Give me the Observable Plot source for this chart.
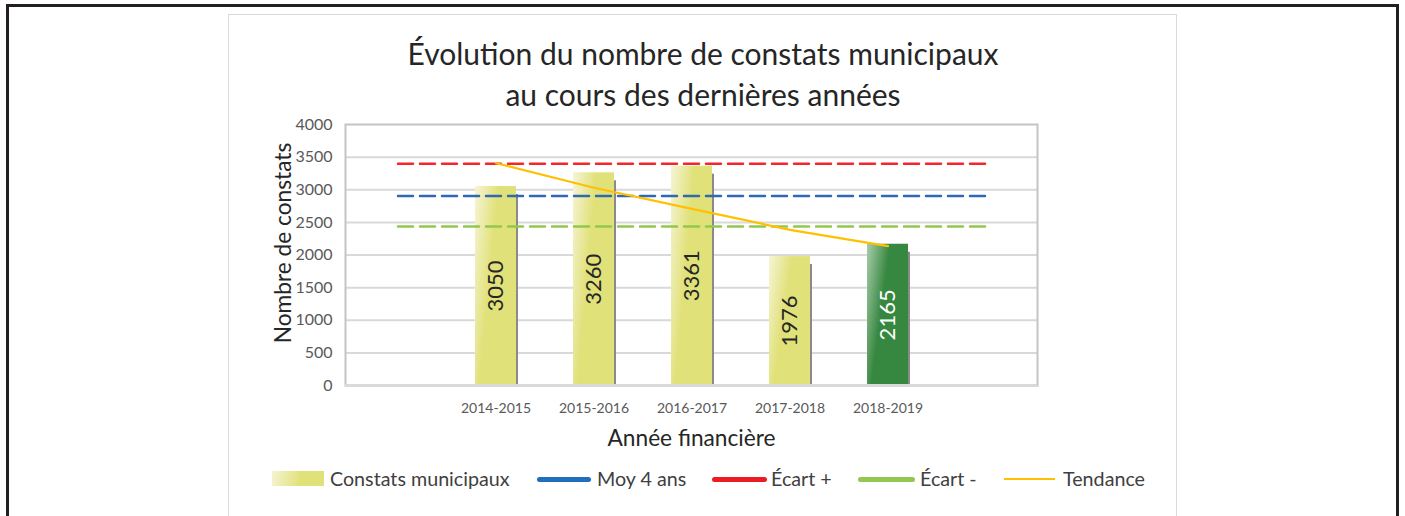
<!DOCTYPE html>
<html><head><meta charset="utf-8">
<script src="https://cdn.jsdelivr.net/npm/d3@7"></script>
<script src="https://cdn.jsdelivr.net/npm/@observablehq/plot@0.6"></script>
<style>
html,body{margin:0;padding:0;background:#fff;width:1405px;height:516px;overflow:hidden;font-family:Lato,sans-serif;}
#outer{position:absolute;left:6px;top:4px;width:1387px;height:540px;border:3px solid #231f20;}
#frame{position:absolute;left:228px;top:14px;width:947px;height:520px;border:1.5px solid #d9d9d9;}
#title{position:absolute;left:228px;width:950px;top:33px;text-align:center;font-size:30px;line-height:41px;color:#262626;}
#chart{position:absolute;left:228px;top:110px;}
.legtxt{position:absolute;top:467px;font-size:19.7px;line-height:24px;color:#404040;white-space:nowrap;}
.legsw{position:absolute;}
</style></head><body>
<div id="outer"></div>
<div id="frame"></div>
<div id="title"></div>
<div id="chart"></div>
<div id="legend"></div>
<script>
// ---- données ----
const titre = ["Évolution du nombre de constats municipaux", "au cours des dernières années"];
const annees = ["2014-2015", "2015-2016", "2016-2017", "2017-2018", "2018-2019"];
const constats = [3050, 3260, 3361, 1976, 2165];
const moy4ans = 2905;
const ecartPlus = 3398;
const ecartMoins = 2437;
const tendance = [3407, 3030, 2708, 2386, 2135];
const yTicks = [0, 500, 1000, 1500, 2000, 2500, 3000, 3500, 4000];
const titreY = "Nombre de constats";
const titreX = "Année financière";
const legende = ["Constats municipaux", "Moy 4 ans", "Écart +", "Écart -", "Tendance"];

// ---- construction ----
document.getElementById("title").innerHTML = titre.join("<br>");

const domaineX = ["_debut", ...annees, "_fin"];
const lignes = annees.map((a, i) => ({annee: a, valeur: constats[i], courante: i === annees.length - 1}));
const trend = annees.map((a, i) => ({annee: a, v: tendance[i]}));
const ref = (v) => domaineX.map(x => ({x, v}));

const chart = Plot.plot({
  width: 949, height: 345,
  marginLeft: 117, marginRight: 140, marginTop: 14, marginBottom: 70,
  style: {fontFamily: "Lato, sans-serif", fontSize: "14px", color: "#595959", background: "transparent", overflow: "visible"},
  x: {type: "band", domain: domaineX, paddingInner: 0.585, paddingOuter: 0.2925,
      tickFormat: d => annees.includes(d) ? d : "", tickSize: 0, tickPadding: 18, label: null},
  y: {domain: [0, 4000], ticks: yTicks, tickFormat: d => String(d), tickSize: 0, tickPadding: 13, label: null},
  marks: [
    Plot.ruleY(yTicks.filter(v => v > 0 && v < 4000), {stroke: "#d9d9d9", strokeWidth: 2}),
    Plot.frame({stroke: "#c4c4c4", strokeWidth: 2}),
    Plot.barY(lignes, {x: "annee", y: "valeur", fill: "#8a8a8a", dx: 2, insetTop: 8}),
    Plot.barY(lignes.filter(d => !d.courante), {x: "annee", y: "valeur", fill: "url(#gJaune)"}),
    Plot.barY(lignes.filter(d => d.courante), {x: "annee", y: "valeur", fill: "url(#gVert)"}),
    Plot.ruleY([0], {stroke: "#d9d9d9", strokeWidth: 3}),
    Plot.text(lignes.filter(d => !d.courante), {x: "annee", y: d => d.valeur / 2, text: d => String(d.valeur), rotate: -90, fontSize: 22, fill: "#262626"}),
    Plot.text(lignes.filter(d => d.courante), {x: "annee", y: d => d.valeur / 2, text: d => String(d.valeur), rotate: -90, fontSize: 22, fill: "#ffffff"}),
    Plot.line(ref(ecartPlus), {x: "x", y: "v", stroke: "#f2262b", strokeWidth: 2.5, strokeDasharray: "15,7"}),
    Plot.line(ref(moy4ans), {x: "x", y: "v", stroke: "#2f69b1", strokeWidth: 2.5, strokeDasharray: "15,7"}),
    Plot.line(ref(ecartMoins), {x: "x", y: "v", stroke: "#92c74e", strokeWidth: 2.5, strokeDasharray: "15,7"}),
    Plot.line(trend, {x: "annee", y: "v", stroke: "#ffc000", strokeWidth: 2.2}),
    Plot.text([titreY], {frameAnchor: "left", textAnchor: "middle", lineAnchor: "middle", rotate: -90, dx: -62, dy: -12, fontSize: 22.7, fill: "#262626"}),
    Plot.text([titreX], {frameAnchor: "bottom", textAnchor: "middle", lineAnchor: "middle", dy: 53, fontSize: 22.7, fill: "#262626"})
  ]
});

// gradients
const svg = d3.select(chart.tagName.toLowerCase() === "svg" ? chart : chart.querySelector("svg"));
const defs = svg.insert("defs", ":first-child");
function grad(id, c0, c1) {
  const g = defs.append("linearGradient").attr("id", id).attr("x1", 0).attr("y1", 0.05).attr("x2", 0.75).attr("y2", 0.4);
  g.append("stop").attr("offset", 0).attr("stop-color", c0);
  g.append("stop").attr("offset", 0.6).attr("stop-color", c1);
  g.append("stop").attr("offset", 1).attr("stop-color", c1);
}
grad("gJaune", "#f5f4d2", "#e1e17a");
grad("gVert", "#a5c9a7", "#36873f");
svg.selectAll('g[aria-label^="y-axis"] text').style("font-size", "16px");
document.getElementById("chart").appendChild(chart);

// legend
const leg = document.getElementById("legend");
const sw = [
  {l: 272, w: 52, t: 471, h: 15, bg: "linear-gradient(100deg,#f5f4d2 0%,#e1e17a 55%)", r: 0},
  {l: 537, w: 54, t: 476.5, h: 5.5, bg: "#1f6fbd", r: 3},
  {l: 712, w: 55, t: 476.5, h: 5.5, bg: "#ed1c24", r: 3},
  {l: 858, w: 57, t: 476.5, h: 5.5, bg: "#92c84f", r: 3},
  {l: 1004, w: 51, t: 478, h: 2, bg: "#ffc000", r: 0}
];
const tx = [330, 597, 771, 920, 1063];
legende.forEach((s, i) => {
  const d = document.createElement("div");
  d.className = "legsw";
  Object.assign(d.style, {left: sw[i].l + "px", top: sw[i].t + "px", width: sw[i].w + "px", height: sw[i].h + "px", background: sw[i].bg, borderRadius: sw[i].r + "px"});
  leg.appendChild(d);
  const t = document.createElement("div");
  t.className = "legtxt";
  t.style.left = tx[i] + "px";
  t.textContent = s;
  leg.appendChild(t);
});
</script>
</body></html>
